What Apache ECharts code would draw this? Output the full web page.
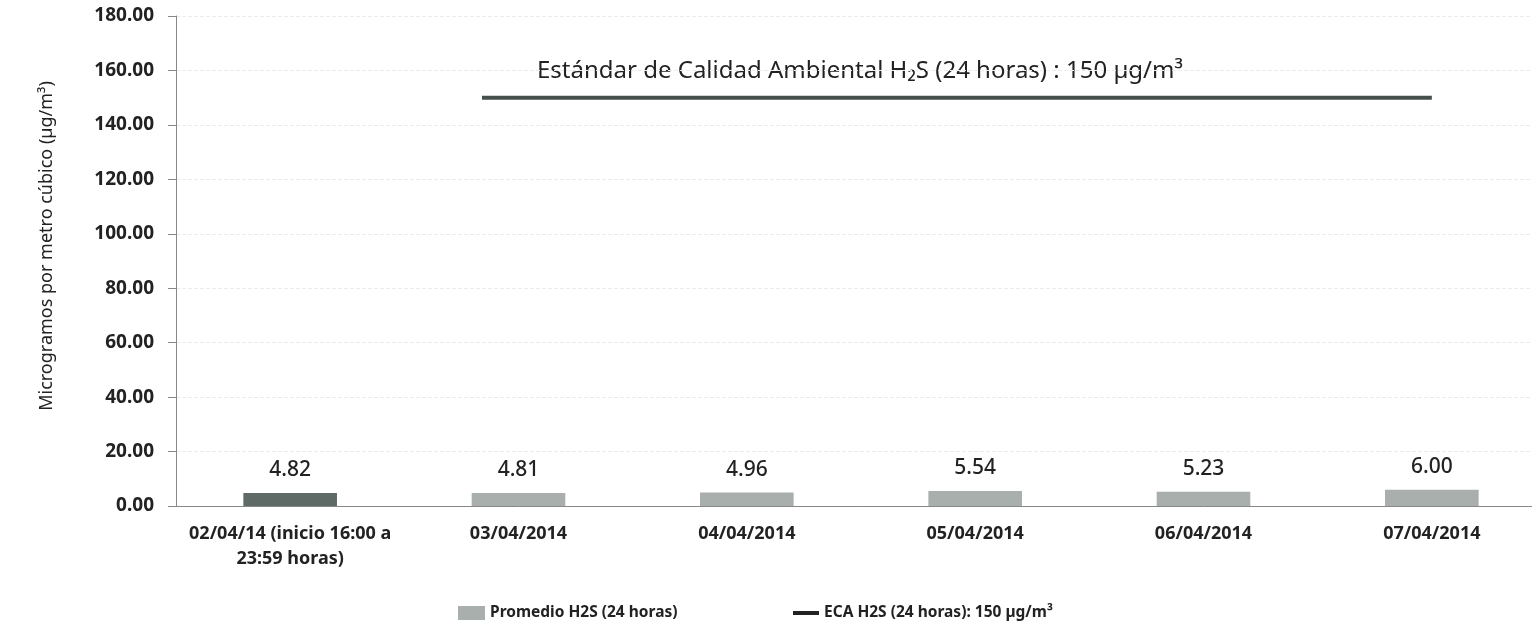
<!DOCTYPE html>
<html>
<head>
  <meta charset="UTF-8" />
  <title>Promedio H2S</title>
  <script src="https://cdn.jsdelivr.net/npm/echarts@6.0.0/dist/echarts.min.js"></script>
  <style>
    html, body { margin: 0; height: 100%; background: #fff; overflow: hidden; }
    /* el grafico original se sale un poco por la derecha */
    #chart { width: 1546px; height: 641px; }
  </style>
</head>
<body>
  <div id="chart"></div>
  <script>
    const chart = echarts.init(document.getElementById('chart'));

    const fechas = ['02/04/14 (inicio 16:00 a\n23:59 horas)', '03/04/2014', '04/04/2014', '05/04/2014', '06/04/2014', '07/04/2014'];
    const promedio = [4.82, 4.81, 4.96, 5.54, 5.23, 6.00];
    // linea del estandar (posicion en unidades de categoria, valor)
    const ecaX = [1.34, 5.5];
    const ecaY = [150, 150];
    const yTicks = [0, 20, 40, 60, 80, 100, 120, 140, 160, 180];

    const font = '"Noto Sans", "Open Sans", sans-serif';
    const legendText = { fontFamily: font, fontSize: 15.5, fontWeight: 'bold', color: '#222' };

    chart.setOption({
      backgroundColor: '#fff',
      animation: false,
      textStyle: { fontFamily: font },
      grid: { left: 176, right: 0, top: 16, bottom: 135, containLabel: false },
      graphic: [{
        type: 'text',
        left: 537,
        top: 59,
        style: {
          text: 'Estándar de Calidad Ambiental H₂S (24 horas) : 150 µg/m³',
          fontFamily: font,
          fontSize: 24,
          fill: '#222'
        }
      }],
      legend: [{
        left: 453,
        top: 600,
        itemWidth: 27,
        itemHeight: 14,
        textStyle: legendText,
        data: [{ name: 'Promedio H2S (24 horas)', icon: 'rect' }]
      }, {
        left: 788,
        top: 600,
        itemWidth: 26,
        itemHeight: 4,
        textStyle: legendText,
        data: [{ name: 'ECA H2S (24 horas): 150 µg/m³', icon: 'rect' }]
      }],
      xAxis: [{
        type: 'category',
        data: fechas,
        axisLine: { lineStyle: { color: '#888', width: 1 } },
        axisTick: { show: false },
        axisLabel: { color: '#222', fontSize: 18, fontWeight: 'bold', margin: 15, lineHeight: 25, interval: 0 }
      }, {
        type: 'value',
        min: 0,
        max: 6,
        show: false
      }],
      yAxis: {
        type: 'value',
        min: 0,
        max: 180,
        interval: 20,
        name: 'Microgramos por metro cúbico (µg/m³)',
        nameLocation: 'middle',
        nameGap: 120,
        nameTextStyle: { fontSize: 18, color: '#222', padding: [0, 0, 0, 30] },
        axisLine: { show: true, lineStyle: { color: '#888' } },
        axisTick: { show: true, length: 8, lineStyle: { color: '#888' } },
        axisLabel: {
          color: '#222', fontSize: 19, fontWeight: 'bold', margin: 22,
          formatter: v => yTicks.includes(v) ? v.toFixed(2) : ''
        },
        splitLine: { show: true, lineStyle: { color: '#ececec', type: 'dashed', width: 1 } }
      },
      series: [{
        name: 'Promedio H2S (24 horas)',
        type: 'bar',
        barWidth: '41%',
        itemStyle: { color: '#a9afac' },
        data: promedio.map((v, i) => i === 0 ? { value: v, itemStyle: { color: '#5f6a66' } } : v),
        label: {
          show: true,
          position: 'top',
          distance: 12,
          color: '#222',
          fontSize: 21,
          fontWeight: 500,
          formatter: p => p.value.toFixed(2)
        }
      }, {
        name: 'ECA H2S (24 horas): 150 µg/m³',
        type: 'line',
        xAxisIndex: 1,
        symbol: 'none',
        lineStyle: { color: '#474f4c', width: 4 },
        itemStyle: { color: '#222' },
        data: ecaX.map((x, i) => [x, ecaY[i]])
      }]
    });
  </script>
</body>
</html>
